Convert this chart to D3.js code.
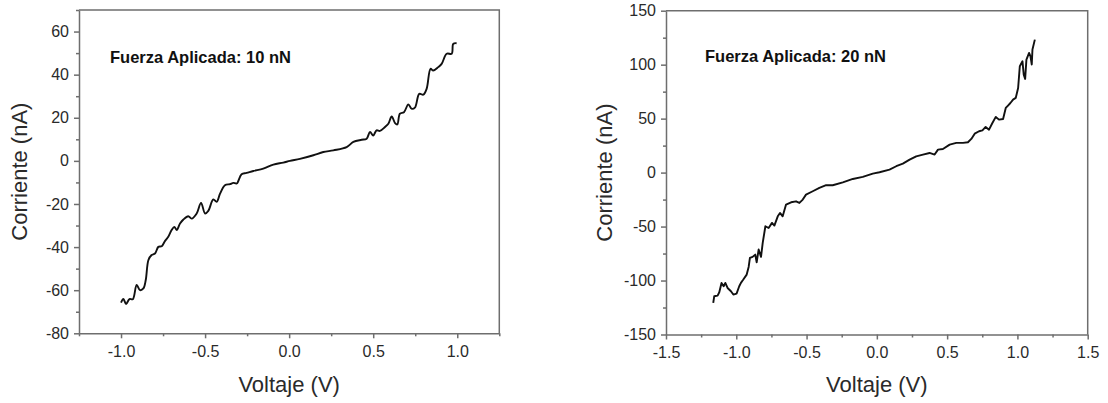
<!DOCTYPE html>
<html>
<head>
<meta charset="utf-8">
<script src="https://cdn.jsdelivr.net/npm/d3@7"></script>
<style>
  body { margin: 0; background: #fff; }
  svg { display: block; font-family: "Liberation Sans", Arial, sans-serif; }
  .tick text { fill: #2a2a2a; font-size: 16px; }
  .axis path, .axis line { stroke: #6e6e6e; stroke-width: 1.5; }
  .axis-title { fill: #2a2a2a; font-size: 22px; }
  .note { fill: #111; font-size: 16.5px; font-weight: bold; }
</style>
</head>
<body>
<svg id="chart"></svg>
<script>
// I-V curve, applied force 10 nN
const voltaje10 = [-1.0, -0.986, -0.970, -0.950, -0.930, -0.907, -0.887, -0.867, -0.853, -0.837,
  -0.818, -0.798, -0.778, -0.758, -0.738, -0.719, -0.699, -0.683, -0.669, -0.649,
  -0.629, -0.600, -0.580, -0.550, -0.524, -0.500, -0.481, -0.451, -0.431, -0.411,
  -0.382, -0.352, -0.332, -0.312, -0.283, -0.253, -0.213, -0.154, -0.094, -0.035,
  0.005, 0.064, 0.144, 0.203, 0.263, 0.342, 0.382, 0.431, 0.461, 0.481,
  0.500, 0.520, 0.540, 0.570, 0.590, 0.610, 0.630, 0.643, 0.659, 0.683,
  0.709, 0.728, 0.748, 0.774, 0.798, 0.818, 0.841, 0.857, 0.887, 0.907,
  0.937, 0.967, 0.976, 0.996];
const corriente10 = [-65.8, -64.1, -66.4, -64.1, -64.2, -57.6, -60.0, -59.2, -55.3, -46.0,
  -43.7, -43.0, -39.9, -39.6, -37.1, -35.2, -32.1, -30.6, -32.1, -29.1,
  -27.2, -25.7, -26.8, -24.4, -19.5, -24.4, -23.2, -17.9, -19.0, -15.2,
  -11.3, -10.8, -10.2, -10.5, -6.2, -5.6, -4.7, -3.6, -1.7, -0.8,
  0.0, 0.9, 2.6, 4.1, 4.9, 6.4, 8.8, 9.8, 10.3, 13.4,
  11.8, 14.2, 13.9, 15.7, 17.2, 20.6, 17.5, 16.9, 21.9, 22.6,
  26.2, 24.2, 24.7, 31.1, 30.7, 33.5, 42.7, 41.9, 43.5, 45.0,
  49.7, 49.7, 54.3, 54.6];

// I-V curve, applied force 20 nN
const voltaje20 = [-1.164, -1.157, -1.133, -1.121, -1.105, -1.090, -1.078, -1.062, -1.038, -1.021,
  -0.998, -0.979, -0.967, -0.950, -0.926, -0.912, -0.903, -0.884, -0.865, -0.855,
  -0.841, -0.824, -0.812, -0.793, -0.770, -0.746, -0.729, -0.705, -0.689, -0.670,
  -0.646, -0.610, -0.575, -0.551, -0.527, -0.504, -0.456, -0.409, -0.361, -0.314,
  -0.242, -0.171, -0.100, -0.029, 0.019, 0.090, 0.138, 0.185, 0.233, 0.280,
  0.328, 0.375, 0.411, 0.435, 0.470, 0.518, 0.565, 0.613, 0.648, 0.672,
  0.696, 0.727, 0.751, 0.774, 0.798, 0.822, 0.846, 0.869, 0.898, 0.917,
  0.933, 0.950, 0.969, 0.988, 1.005, 1.017, 1.036, 1.045, 1.055, 1.064,
  1.083, 1.093, 1.102, 1.107, 1.124];
const corriente20 = [-120.8, -114.6, -114.0, -110.9, -102.2, -105.3, -102.2, -106.9, -109.9, -113.0,
  -112.1, -105.3, -102.2, -99.1, -94.5, -87.4, -79.1, -78.1, -76.0, -83.1,
  -71.3, -78.1, -65.2, -49.7, -51.3, -46.6, -49.1, -40.5, -37.4, -40.5,
  -29.6, -27.5, -26.6, -28.1, -25.0, -20.4, -17.3, -14.2, -11.7, -11.7,
  -9.0, -5.9, -4.0, -0.9, 0.3, 2.8, 5.9, 8.3, 12.0, 15.1,
  16.7, 18.2, 16.7, 21.3, 21.9, 25.9, 27.5, 27.5, 28.1, 31.2,
  36.1, 38.3, 39.2, 42.3, 39.8, 46.0, 51.6, 49.1, 49.7, 59.9,
  62.1, 64.5, 67.6, 69.2, 78.4, 98.5, 103.1, 90.8, 86.8, 104.7,
  110.9, 107.8, 100.1, 114.0, 123.2];

// axis domains and ticks
const dominioX10 = [-1.25, 1.25];
const dominioY10 = [-80, 70];
const ticksX10 = [-1.0, -0.5, 0.0, 0.5, 1.0];
const ticksY10 = [-80, -60, -40, -20, 0, 20, 40, 60];

const dominioX20 = [-1.5, 1.5];
const dominioY20 = [-150, 150];
const ticksX20 = [-1.5, -1.0, -0.5, 0.0, 0.5, 1.0, 1.5];
const ticksY20 = [-150, -100, -50, 0, 50, 100, 150];

const etiquetas = ["Fuerza Aplicada: 10 nN", "Fuerza Aplicada: 20 nN"];

class IVChart {
    constructor(_config, _voltaje, _corriente) {
        this.config = {
            parent: _config.parent,
            left: _config.left,
            top: _config.top,
            width: _config.width,
            height: _config.height,
            xDomain: _config.xDomain,
            yDomain: _config.yDomain,
            xTicks: _config.xTicks,
            yTicks: _config.yTicks,
            xMinor: _config.xMinor,
            yMinor: _config.yMinor,
            label: _config.label,
            labelX: _config.labelX,
            titleX: _config.titleX,
            curve: _config.curve || d3.curveLinear
        };
        this.voltaje = _voltaje;
        this.corriente = _corriente;
        this.initVis();
    }

    initVis() {
        let vis = this;
        let c = vis.config;

        vis.chart = c.parent.append('g')
            .attr('transform', `translate(${c.left}, ${c.top})`);

        vis.xScale = d3.scaleLinear().domain(c.xDomain).range([0, c.width]);
        vis.yScale = d3.scaleLinear().domain(c.yDomain).range([c.height, 0]);

        // minor ticks first (no labels)
        vis.chart.append('g')
            .attr('class', 'axis')
            .attr('transform', `translate(0, ${c.height})`)
            .call(d3.axisBottom(vis.xScale).tickValues(c.xMinor).tickSize(3).tickFormat(''))
            .call(g => g.select('.domain').remove());
        vis.chart.append('g')
            .attr('class', 'axis')
            .call(d3.axisLeft(vis.yScale).tickValues(c.yMinor).tickSize(3).tickFormat(''))
            .call(g => g.select('.domain').remove());

        // major ticks
        vis.chart.append('g')
            .attr('class', 'axis')
            .attr('transform', `translate(0, ${c.height})`)
            .call(d3.axisBottom(vis.xScale).tickValues(c.xTicks).tickSize(5).tickSizeOuter(0)
                .tickPadding(7).tickFormat(d => d.toFixed(1)));
        vis.chart.append('g')
            .attr('class', 'axis')
            .call(d3.axisLeft(vis.yScale).tickValues(c.yTicks).tickSize(5).tickSizeOuter(0)
                .tickPadding(5).tickFormat(d => String(d)));

        // top and right frame
        vis.chart.append('path')
            .attr('d', `M0,0H${c.width}V${c.height}`)
            .attr('fill', 'none')
            .attr('stroke', '#6e6e6e')
            .attr('stroke-width', 1.5);

        vis.chart.append('text')
            .attr('class', 'axis-title')
            .attr('text-anchor', 'middle')
            .attr('x', c.width / 2)
            .attr('y', 392 - c.top)
            .text('Voltaje (V)');

        vis.chart.append('text')
            .attr('class', 'axis-title')
            .attr('text-anchor', 'middle')
            .attr('transform', `translate(${c.titleX}, ${c.height / 2}) rotate(-90)`)
            .text('Corriente (nA)');

        vis.chart.append('text')
            .attr('class', 'note')
            .attr('x', c.labelX)
            .attr('y', 62.5 - c.top)
            .text(c.label);

        vis.updateVis();
    }

    updateVis() {
        let vis = this;
        let puntos = vis.voltaje.map((v, i) => [v, vis.corriente[i]]);

        let line = d3.line()
            .x(d => vis.xScale(d[0]))
            .y(d => vis.yScale(d[1]))
            .curve(vis.config.curve);

        vis.chart.append('path')
            .datum(puntos)
            .attr('fill', 'none')
            .attr('stroke', '#111')
            .attr('stroke-width', 1.9)
            .attr('stroke-linejoin', 'round')
            .attr('d', line);
    }
}

const svg = d3.select('#chart').attr('width', 1108).attr('height', 403);

new IVChart({
    parent: svg, left: 79, top: 10, width: 420.3, height: 323.3,
    xDomain: dominioX10, yDomain: dominioY10,
    xTicks: ticksX10, yTicks: ticksY10,
    xMinor: [-1.25, -0.75, -0.25, 0.25, 0.75, 1.25],
    yMinor: [-70, -50, -30, -10, 10, 30, 50, 70],
    label: etiquetas[0], labelX: 31, titleX: -52,
    curve: d3.curveCatmullRom.alpha(0.5)
}, voltaje10, corriente10);

new IVChart({
    parent: svg, left: 666, top: 10.7, width: 421.7, height: 323.8,
    xDomain: dominioX20, yDomain: dominioY20,
    xTicks: ticksX20, yTicks: ticksY20,
    xMinor: [-1.25, -0.75, -0.25, 0.25, 0.75, 1.25],
    yMinor: [-125, -75, -25, 25, 75, 125],
    label: etiquetas[1], labelX: 39, titleX: -54,
    curve: d3.curveLinear
}, voltaje20, corriente20);
</script>
</body>
</html>
